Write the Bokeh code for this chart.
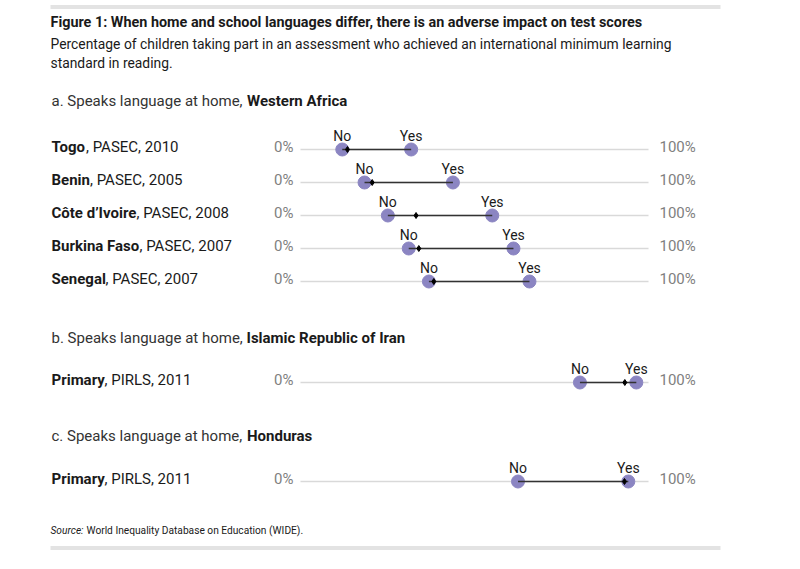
from bokeh.plotting import figure
from bokeh.models import ColumnDataSource, Range1d
from bokeh.core.properties import value
from bokeh.embed import file_html
from bokeh.resources import INLINE

# ---------------- data ----------------
title = "Figure 1: When home and school languages differ, there is an adverse impact on test scores"
subtitle1 = "Percentage of children taking part in an assessment who achieved an international minimum learning"
subtitle2 = "standard in reading."
source_italic = "Source:"
source_text = " World Inequality Database on Education (WIDE)."

sections_lead = ["a. Speaks language at home, ", "b. Speaks language at home, ", "c. Speaks language at home, "]
sections_bold = ["Western Africa", "Islamic Republic of Iran", "Honduras"]

row_bold = ["Togo", "Benin", "Côte d’Ivoire", "Burkina Faso", "Senegal", "Primary", "Primary"]
row_rest = [", PASEC, 2010", ", PASEC, 2005", ", PASEC, 2008", ", PASEC, 2007", ", PASEC, 2007",
            ", PIRLS, 2011", ", PIRLS, 2011"]
no_vals = [12.0, 18.4, 25.1, 31.1, 36.9, 80.3, 62.5]
yes_vals = [31.8, 43.8, 55.1, 61.2, 65.8, 96.5, 94.2]
mark_vals = [13.5, 20.6, 33.2, 34.0, 38.3, 93.2, 93.1]
axis_min_label = "0%"
axis_max_label = "100%"
no_label = "No"
yes_label = "Yes"

# ---------------- layout (pixels) ----------------
W, H = 784, 553
PX0 = 300.0     # page x of 0%
PXS = 3.48      # pixels per percent
row_y = [149, 182, 215, 248, 281, 382, 481]
row_bold_end = [85.5, 89.5, 136, 139, 105, 104, 104]
section_y = [100.5, 337.5, 435.5]
section_bold_x = [246.5, 246, 246.5]

def px(xpix):
    return (xpix - PX0) / PXS

X0, X1 = px(0), px(W)

p = figure(width=W, height=H, output_backend="svg", toolbar_location=None,
           x_range=Range1d(X0, X1), y_range=Range1d(H, 0),
           min_border=0, min_border_left=0, min_border_right=0,
           min_border_top=0, min_border_bottom=0)
p.axis.visible = False
p.grid.visible = False
p.outline_line_color = None
p.background_fill_color = "white"
p.border_fill_color = "white"

FONT = value("Roboto")
DARK = "#1a1a1a"
GRAY = "#7f7f7f"
DOT = "#8b85c2"

# horizontal rules top and bottom
p.segment(x0=[px(50), px(50)], y0=[6.5, 547.5], x1=[px(720), px(720)], y1=[6.5, 547.5],
          line_color="#e3e3e3", line_width=4)

# titles
p.text(x=[px(50)], y=[21.5], text=[title], text_font=FONT, text_font_size="14.4px",
       text_font_style="bold", text_color=DARK, text_baseline="middle")
p.text(x=[px(50), px(50)], y=[43.5, 62.5], text=[subtitle1, subtitle2], text_font=FONT,
       text_font_size="13.85px", text_color=DARK, text_baseline="middle")

# section headings
p.text(x=[px(51)] * 3, y=section_y, text=sections_lead, text_font=FONT, text_font_size="15px",
       text_color="#333333", text_baseline="middle")
p.text(x=[px(v) for v in section_bold_x], y=section_y, text=sections_bold, text_font=FONT,
       text_font_size="15px", text_font_style="bold", text_color=DARK, text_baseline="middle")

src = ColumnDataSource(dict(
    y=row_y, ty=[v - 3 for v in row_y], ly=[v - 13.5 for v in row_y],
    no=no_vals, yes=yes_vals, mark=mark_vals,
    bold=row_bold, rest=row_rest,
    bx=[px(51)] * len(row_y), rx=[px(v) for v in row_bold_end],
    zero=[0] * len(row_y), hundred=[100] * len(row_y),
    zl=[axis_min_label] * len(row_y), hl=[axis_max_label] * len(row_y),
    nl=[no_label] * len(row_y), yl=[yes_label] * len(row_y),
))

# row labels
p.text(x="bx", y="ty", text="bold", source=src, text_font=FONT, text_font_size="15px",
       text_font_style="bold", text_color=DARK, text_baseline="middle")
p.text(x="rx", y="ty", text="rest", source=src, text_font=FONT, text_font_size="15px",
       text_color=DARK, text_baseline="middle")

# axis end labels
p.text(x="zero", y="ty", text="zl", source=src, x_offset=-7, text_align="right",
       text_font=FONT, text_font_size="15px", text_color=GRAY, text_baseline="middle")
p.text(x="hundred", y="ty", text="hl", source=src, x_offset=11, text_align="left",
       text_font=FONT, text_font_size="15px", text_color=GRAY, text_baseline="middle")

# gray baselines
p.segment(x0="zero", y0="y", x1="hundred", y1="y", source=src, line_color="#d9d9d9", line_width=1.5)

# dots
p.scatter(x="no", y="y", source=src, size=13, fill_color=DOT, line_color=DOT)
p.scatter(x="yes", y="y", source=src, size=13, fill_color=DOT, line_color=DOT)

# connector
p.segment(x0="no", y0="y", x1="yes", y1="y", source=src, line_color="#333333", line_width=1.3)
p.scatter(x="mark", y="y", source=src, marker="diamond", size=6, fill_color="black", line_color="black")

# No / Yes labels
p.text(x="no", y="ly", text="nl", source=src, text_align="center", text_font=FONT,
       text_font_size="14px", text_color=DARK, text_baseline="middle")
p.text(x="yes", y="ly", text="yl", source=src, text_align="center", text_font=FONT,
       text_font_size="14px", text_color=DARK, text_baseline="middle")

# source note
p.text(x=[px(50)], y=[530], text=[source_italic], text_font=FONT, text_font_size="10.2px",
       text_font_style="italic", text_color=DARK, text_baseline="middle")
p.text(x=[px(86)], y=[530], text=[source_text], text_font=FONT, text_font_size="10.2px",
       text_color=DARK, text_baseline="middle")

open("out.html", "w").write(file_html(p, INLINE))
